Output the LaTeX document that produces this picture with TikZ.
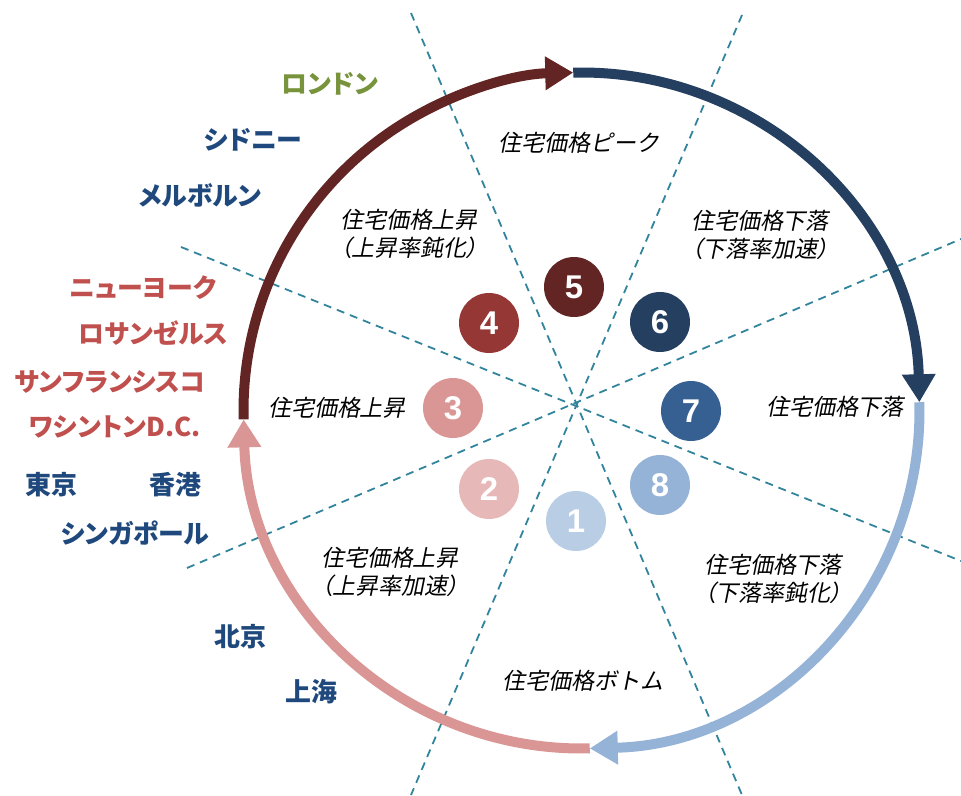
\documentclass[tikz,border=0pt]{standalone}
\usepackage{fontspec}
\setmainfont{Liberation Sans}
\newfontfamily\jpit[FakeSlant=0.2]{Noto Sans CJK JP}
\newfontfamily\jpitp[FakeSlant=0.2,RawFeature=+palt]{Noto Sans CJK JP}
\newfontfamily\jpb[RawFeature=+palt]{Noto Sans CJK JP}
\usetikzlibrary{arrows.meta}
\definecolor{cfive}{HTML}{632523}
\definecolor{cfour}{HTML}{953735}
\definecolor{cthree}{HTML}{D99694}
\definecolor{ctwo}{HTML}{E6B9B8}
\definecolor{cone}{HTML}{B9CDE5}
\definecolor{ceight}{HTML}{95B3D7}
\definecolor{cseven}{HTML}{376092}
\definecolor{csix}{HTML}{243F60}
\definecolor{cnavy}{HTML}{1F497D}
\definecolor{cred}{HTML}{C0504D}
\definecolor{cgreen}{HTML}{77933C}
\definecolor{cdash}{HTML}{31849B}
\tikzset{
  divline/.style={draw=cdash, line width=1.8bp, dash pattern=on 8bp off 6bp},
  cycarc/.style={line width=10bp, -{Triangle[width=32bp,length=28bp]}},
  num/.style={circle, minimum size=60bp, inner sep=0pt, text=white,
    font=\fontsize{33}{33}\selectfont\bfseries},
  lbl/.style={font=\jpit\fontsize{23}{28}\selectfont, align=center, inner sep=0pt},
  city/.style={font=\jpb\bfseries\fontsize{26}{30}\selectfont, inner sep=0pt},
}
\begin{document}
\begin{tikzpicture}[x=1bp,y=-1bp]
\useasboundingbox (0,0) rectangle (961,796);
\clip (0,0) rectangle (961,796);
% dividing dashed lines
\draw[divline] (411,13) -- (742,795);
\draw[divline] (742,15) -- (411,795);
\draw[divline] (181,247) -- (961,561);
\draw[divline] (187,568) -- (961,239);
% cycle arcs
\coordinate (cc) at (581.5,410.5);
\draw[cycarc, draw=cfive]
  (cc) ++(-181.5:338) coordinate (pL) arc[start angle=-181.5, end angle=-91.4, radius=338] coordinate (pT);
\draw[cycarc, draw=csix]
  (pT) arc[start angle=-91.4, end angle=-1.4, radius=338] coordinate (pR);
\draw[cycarc, draw=ceight]
  (pR) arc[start angle=-1.4, end angle=88.6, radius=338] coordinate (pB);
\draw[cycarc, draw=cthree]
  (pB) arc[start angle=88.6, end angle=178.5, radius=338];
% numbered circles
\node[num, fill=cfive]  (n5) at (574,287) {5};
\node[num, fill=cfour]  (n4) at (489,323) {4};
\node[num, fill=csix]   (n6) at (660,322) {6};
\node[num, fill=cthree] (n3) at (453,408) {3};
\node[num, fill=cseven] (n7) at (691,411) {7};
\node[num, fill=ctwo]   (n2) at (489,489) {2};
\node[num, fill=ceight] (n8) at (660,485) {8};
\node[num, fill=cone]   (n1) at (576,521) {1};
% phase labels
\node[lbl] (t5) at (579,143) {住宅価格ピーク};
\node[lbl] (t4) at (409,234) {住宅価格上昇\\{\jpitp （}上昇率鈍化{\jpitp ）}};
\node[lbl] (t6) at (760,235) {住宅価格下落\\{\jpitp （}下落率加速{\jpitp ）}};
\node[lbl] (t3) at (337,408) {住宅価格上昇};
\node[lbl] (t7) at (835,407) {住宅価格下落};
\node[lbl] (t2) at (390,572) {住宅価格上昇\\{\jpitp （}上昇率加速{\jpitp ）}};
\node[lbl] (t8) at (773,579) {住宅価格下落\\{\jpitp （}下落率鈍化{\jpitp ）}};
\node[lbl] (t1) at (583,681) {住宅価格ボトム};
% cities
\foreach \nm/\x/\y/\col/\txt in {
  london/330/84/cgreen/ロンドン,
  sydney/253/140/cnavy/シドニー,
  melb/200/195/cnavy/メルボルン,
  ny/143/288/cred/ニューヨーク,
  la/153/333/cred/ロサンゼルス,
  sf/110/382/cred/サンフランシスコ,
  dc/115/427/cred/ワシントンD.C.,
  tokyo/51/485/cnavy/東京,
  hk/175/485/cnavy/香港,
  sing/135/533/cnavy/シンガポール,
  beijing/240/637/cnavy/北京,
  shanghai/311/692/cnavy/上海}
{
  \node[city, text=\col] (\nm) at (\x,\y) {\txt};
}
\end{tikzpicture}
\end{document}
